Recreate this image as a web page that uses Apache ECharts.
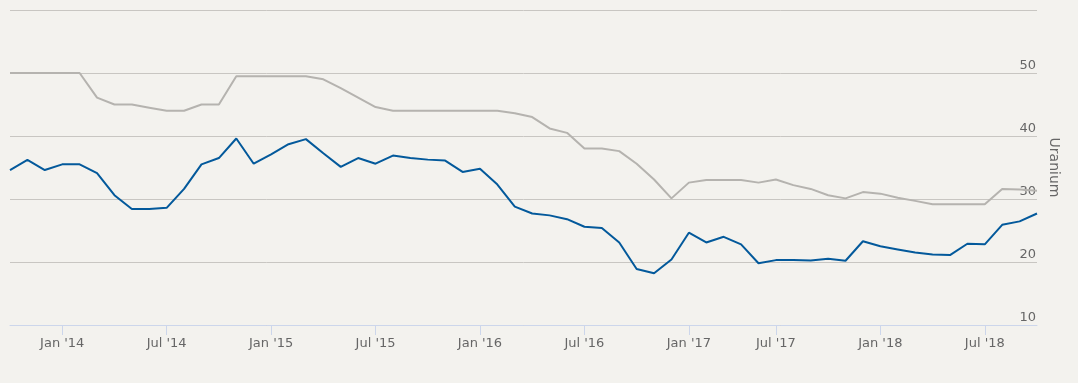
<!DOCTYPE html>
<html>
<head>
<meta charset="utf-8">
<script src="https://cdn.jsdelivr.net/npm/echarts@6/dist/echarts.min.js"></script>
<style>
html,body{margin:0;padding:0;background:#f3f2ee;}
#c{width:1078px;height:383px;}
</style>
</head>
<body>
<div id="c"></div>
<script>
const categories = [
 "2013-10","2013-11","2013-12",
 "2014-01","2014-02","2014-03","2014-04","2014-05","2014-06","2014-07","2014-08","2014-09","2014-10","2014-11","2014-12",
 "2015-01","2015-02","2015-03","2015-04","2015-05","2015-06","2015-07","2015-08","2015-09","2015-10","2015-11","2015-12",
 "2016-01","2016-02","2016-03","2016-04","2016-05","2016-06","2016-07","2016-08","2016-09","2016-10","2016-11","2016-12",
 "2017-01","2017-02","2017-03","2017-05","2017-06","2017-07","2017-08","2017-09","2017-10","2017-11","2017-12",
 "2018-01","2018-02","2018-03","2018-04","2018-05","2018-06","2018-07","2018-08","2018-09","2018-10"
];
const longTerm = [50,50,50,50,50,46.1,45,45,44.5,44,44,45,45,49.5,49.5,49.5,49.5,49.5,49,47.6,
 46.1,44.6,44,44,44,44,44,44,44,43.6,43,41.2,40.5,38,38,37.6,35.6,33.1,30.1,32.6,
 33,33,33,32.6,33.1,32.2,31.6,30.6,30.1,31.1,30.85,30.2,29.7,29.15,29.15,29.15,29.15,31.6,31.5,31.3];
const spot = [34.6,36.2,34.6,35.5,35.5,34.1,30.6,28.4,28.4,28.6,
 31.6,35.5,36.5,39.6,35.6,37.1,38.7,39.5,37.25,35.1,
 36.5,35.6,36.9,36.5,36.25,36.1,34.3,34.8,32.3,28.8,
 27.7,27.4,26.8,25.6,25.4,23.1,18.9,18.2,20.4,24.65,
 23.1,24.0,22.8,19.8,20.3,20.3,20.25,20.5,20.2,23.3,
 22.5,22.0,21.5,21.2,21.1,22.9,22.8,25.9,26.45,27.7];
const yTicks = [10,20,30,40,50];
const monthNames = {"01":"Jan","07":"Jul"};

function isTick(idx, val){ const m = val.slice(5); return m === "01" || m === "07"; }

const chart = echarts.init(document.getElementById('c'), null, {renderer:'canvas'});
chart.setOption({
  backgroundColor:'#f3f2ee',
  animation:false,
  textStyle:{fontFamily:'DejaVu Sans'},
  grid:{left:10,right:41,top:10,bottom:58,containLabel:false},
  xAxis:{
    type:'category', data:categories, boundaryGap:false,
    axisLine:{show:true,lineStyle:{color:'#ccd6eb',width:1}},
    axisTick:{show:true,length:10,interval:isTick,lineStyle:{color:'#ccd6eb'}},
    axisLabel:{interval:isTick,margin:12,color:'#666666',fontSize:13,fontFamily:'DejaVu Sans',
      formatter:function(v){return monthNames[v.slice(5)]+" '"+v.slice(2,4);}},
    splitLine:{show:false}
  },
  yAxis:{
    type:'value', position:'right', min:10, max:60, interval:10,
    name:'Uranium', nameLocation:'middle', nameRotate:-90, nameGap:9,
    nameTextStyle:{color:'#666666',fontSize:14,fontFamily:'DejaVu Sans'},
    axisLine:{show:false}, axisTick:{show:false},
    axisLabel:{inside:true,margin:1,color:'#666666',fontSize:13,fontFamily:'DejaVu Sans',
      verticalAlign:'bottom',padding:[0,0,1,0],
      formatter:function(v){return yTicks.indexOf(v)>=0 ? String(v) : '';}},
    splitLine:{show:true,lineStyle:{color:'#c8c6c2',width:1}}
  },
  series:[
    {name:'Long-term',type:'line',data:longTerm,showSymbol:false,symbol:'none',
     lineStyle:{color:'#b5b3af',width:2},itemStyle:{color:'#b5b3af'},z:2},
    {name:'Spot',type:'line',data:spot,showSymbol:false,symbol:'none',
     lineStyle:{color:'#03599b',width:2},itemStyle:{color:'#03599b'},z:3}
  ]
});
</script>
</body>
</html>
